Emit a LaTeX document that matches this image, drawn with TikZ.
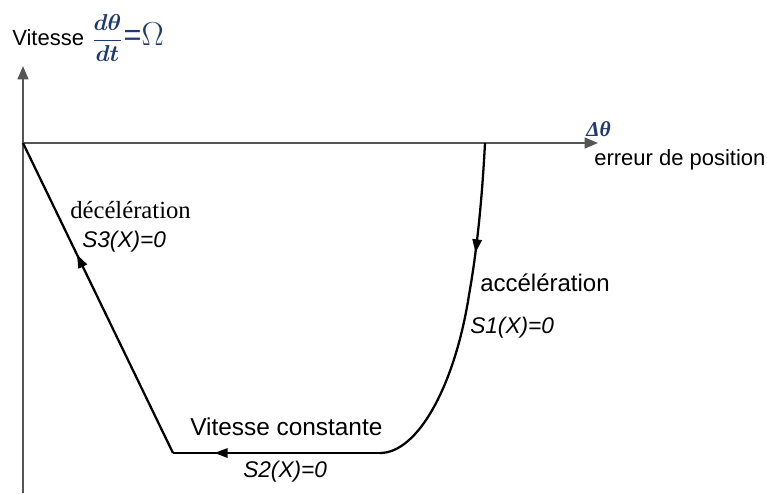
\documentclass[tikz,border=0pt]{standalone}
\usepackage{amsmath}
\usepackage{bm}
\usepackage{fontspec}
\setmainfont{Liberation Sans}
\newfontfamily\serifface{Liberation Serif}
\usetikzlibrary{arrows.meta,decorations.markings}
\definecolor{axisgray}{HTML}{555555}
\definecolor{mathblue}{HTML}{1F3A70}
\tikzset{
  axisline/.style={draw=axisgray, line width=1.6pt, -{Triangle[length=10pt,width=8pt]}},
  pathline/.style={draw=black, line width=1.7pt},
  midarrow/.style={postaction={decorate},decoration={markings,
    mark=at position #1 with {\arrow{Triangle[length=10pt,width=7pt]}}}},
  lbl/.style={inner sep=0pt, anchor=west, font=\fontsize{17}{19}\selectfont},
  ilbl/.style={lbl, font=\fontsize{17}{19}\selectfont\itshape},
}
\begin{document}
\begin{tikzpicture}[x=0.75pt,y=-0.75pt]
\useasboundingbox (0,0) rectangle (767,493);
% axes
\coordinate (O) at (23,143);
\coordinate (ybot) at (23,493);
\coordinate (ytop) at (23,66);
\coordinate (xend) at (598,143);
\draw[axisline] (ybot) -- (ytop);
\draw[axisline] (O) -- (xend);
% trajectory points
\coordinate (A) at (485,143);
\coordinate (M) at (469,295);
\coordinate (B) at (380,453);
\coordinate (C) at (173,453);
\draw[pathline, midarrow=0.72] (A) .. controls (482,200) and (477,250) .. (M);
\draw[pathline] (M) .. controls (455,385) and (418,453) .. (B);
\draw[pathline, midarrow=0.8] (B) -- (C);
\draw[pathline, midarrow=0.64] (C) -- (O);
% labels
\node[lbl, font=\fontsize{16.5}{19}\selectfont] (ylab) at (12,38) {Vitesse\kern6pt\textcolor{mathblue}{\fontsize{18}{20}\selectfont$\displaystyle\frac{\bm{d\theta}}{\bm{dt}}$\kern0.5pt{\fontsize{23}{25}\selectfont=$\Omega$}}};
\node[lbl, anchor=south west] (dth) at (586,137) {\textcolor{mathblue}{\fontsize{16}{18}\selectfont\serifface\bfseries\itshape Δθ}};
\node[lbl, font=\fontsize{16.5}{19}\selectfont] (err) at (594,160) {erreur de position};
\node[lbl, font=\fontsize{18.5}{20}\selectfont\serifface] (dec) at (70,210) {décélération};
\node[ilbl] (s3) at (82,242) {S3(X)=0};
\node[lbl, font=\fontsize{18}{20}\selectfont] (acc) at (480,283) {accélération};
\node[ilbl] (s1) at (470,328) {S1(X)=0};
\node[lbl, font=\fontsize{18.3}{20}\selectfont] (vc) at (190,427) {Vitesse constante};
\node[ilbl] (s2) at (243,472) {S2(X)=0};
\end{tikzpicture}
\end{document}
